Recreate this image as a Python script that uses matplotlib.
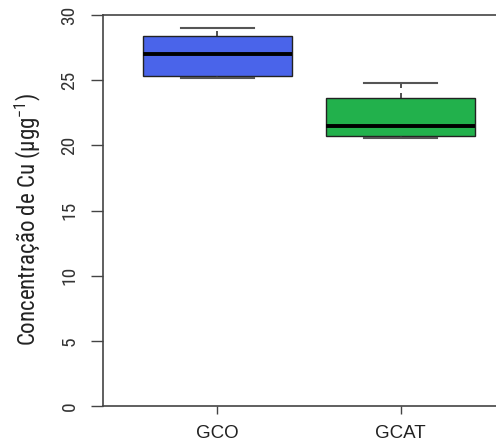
import matplotlib
matplotlib.use("Agg")
import matplotlib.pyplot as plt

groups = ["GCO", "GCAT"]
whisker_low = [25.2, 20.6]
q1 = [25.3, 20.75]
median = [27.0, 21.5]
q3 = [28.4, 23.6]
whisker_high = [29.0, 24.8]
colors = ["#4a64ea", "#22b14c"]
yticks = [0, 5, 10, 15, 20, 25, 30]

narrow = ["Roboto Condensed", "DejaVu Sans"]
plt.rcParams["mathtext.fontset"] = "custom"
plt.rcParams["mathtext.rm"] = "Roboto Condensed"
plt.rcParams["mathtext.it"] = "Roboto Condensed"
plt.rcParams["mathtext.default"] = "rm"

fig = plt.figure(figsize=(4.96, 4.45), dpi=100)
ax = fig.add_axes([103/496, 1-406/445, 1-103/496 + 0.01, (406-15)/445])

stats = []
for i, g in enumerate(groups):
    stats.append(dict(label=g, whislo=whisker_low[i], q1=q1[i], med=median[i],
                      q3=q3[i], whishi=whisker_high[i], fliers=[]))

bp = ax.bxp(stats, positions=[1, 2], widths=0.81, patch_artist=True,
            showfliers=False,
            boxprops=dict(edgecolor="#222222", linewidth=1.0),
            medianprops=dict(color="black", linewidth=2.8),
            whiskerprops=dict(color="#333333", linewidth=1.2, linestyle=(0, (3, 3))),
            capprops=dict(color="#555555", linewidth=1.5), capwidths=0.40)
for patch, c in zip(bp["boxes"], colors):
    patch.set_facecolor(c)

ax.set_xlim(0.376, 2.547)
ax.set_ylim(0, 30)
ax.set_yticks(yticks)
ax.set_yticklabels([str(t) for t in yticks], rotation=90, va="center",
                   family=narrow, fontsize=14, color="#333333")
ax.set_xticks([1, 2])
ax.set_xticklabels(groups, family=["Liberation Sans", "DejaVu Sans"], fontsize=13.5, color="#222222")
ax.tick_params(axis="y", length=8.6, width=1.0, color="#444444", pad=9)
ax.tick_params(axis="x", length=6, width=1.0, color="#444444", pad=8)

for s in ["left", "top", "bottom"]:
    ax.spines[s].set_color("#444444")
    ax.spines[s].set_linewidth(1.2)
ax.spines["right"].set_visible(False)

ax.set_ylabel("Concentração de Cu (µgg$^{-1}$)", family=narrow,
              fontsize=16.5, color="#222222", va="center")
ax.yaxis.set_label_coords(-0.188, 0.476)

fig.savefig("out.png", dpi=100)
